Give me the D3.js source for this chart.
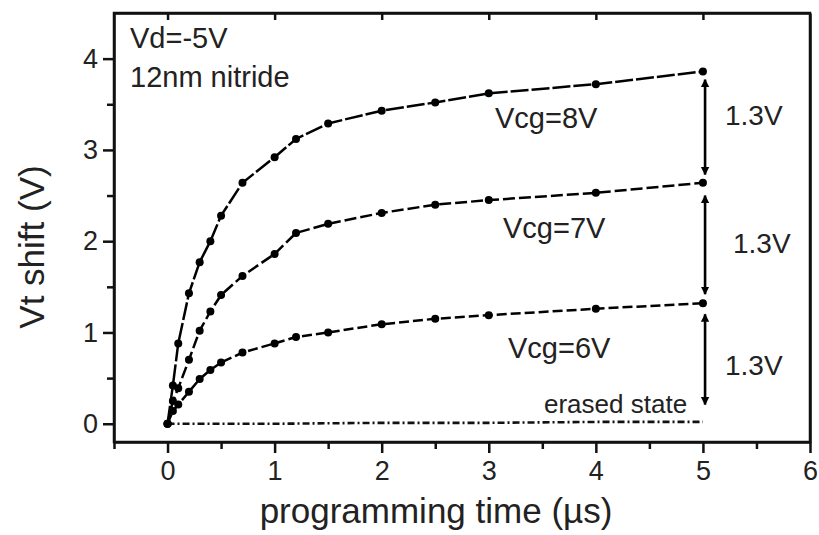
<!DOCTYPE html>
<html>
<head>
<meta charset="utf-8">
<script src="https://cdn.jsdelivr.net/npm/d3@7"></script>
<style>
  html, body { margin: 0; padding: 0; background: #fff; }
  svg { display: block; }
  text { font-family: "Liberation Sans", Arial, Helvetica, sans-serif; fill: #222; }
</style>
</head>
<body>
<svg id="chart" width="819" height="535"></svg>
<script>
// ---- data ----
const times = [0, 0.05, 0.1, 0.2, 0.3, 0.4, 0.5, 0.7, 1, 1.2, 1.5, 2, 2.5, 3, 4, 5];
const vcg8 = [0, 0.42, 0.88, 1.43, 1.77, 2.00, 2.28, 2.64, 2.92, 3.12, 3.29, 3.43, 3.52, 3.62, 3.72, 3.86];
const vcg7 = [0, 0.25, 0.39, 0.70, 1.02, 1.23, 1.41, 1.62, 1.86, 2.09, 2.19, 2.31, 2.40, 2.45, 2.53, 2.64];
const vcg6 = [0, 0.14, 0.21, 0.35, 0.49, 0.59, 0.67, 0.78, 0.88, 0.95, 1.00, 1.09, 1.15, 1.19, 1.26, 1.32];
const erasedTimes = [0, 1, 2, 3, 4, 5];
const erasedValues = [0, 0, 0.01, 0.01, 0.02, 0.02];
const seriesLabels = ["Vcg=8V", "Vcg=7V", "Vcg=6V"];
const xTicks = [0, 1, 2, 3, 4, 5, 6];
const yTicks = [0, 1, 2, 3, 4];
const arrowTime = 5.02;
const arrowFrom = [3.77, 2.50, 1.20];
const arrowTo = [2.73, 1.42, 0.21];
const gapLabel = "1.3V";

// ---- layout ----
const svg = d3.select("#chart");
const pL = 114, pR = 810, pT = 13, pB = 442;
const x = d3.scaleLinear().domain([-0.5, 6]).range([pL, pR]);
const y = d3.scaleLinear().domain([-0.2, 4.5]).range([pB, pT]);

const minorX = d3.range(-0.5, 6.01, 0.5).filter(v => !xTicks.includes(v));
const minorY = d3.range(0.5, 4.5, 0.5).filter(v => !yTicks.includes(v));

// minor ticks
svg.append("g").attr("transform", `translate(0,${pB})`)
  .call(d3.axisBottom(x).tickValues(minorX).tickSize(7).tickFormat(""))
  .call(g => g.select(".domain").remove())
  .call(g => g.selectAll("line").attr("stroke", "#111").attr("stroke-width", 2.5));
svg.append("g").attr("transform", `translate(${pL},0)`)
  .call(d3.axisLeft(y).tickValues(minorY).tickSize(7).tickFormat(""))
  .call(g => g.select(".domain").remove())
  .call(g => g.selectAll("line").attr("stroke", "#111").attr("stroke-width", 2.5));

// major axes
const xAxis = svg.append("g").attr("transform", `translate(0,${pB})`)
  .call(d3.axisBottom(x).tickValues(xTicks).tickSize(11).tickSizeOuter(0).tickPadding(8).tickFormat(d3.format("d")));
const yAxis = svg.append("g").attr("transform", `translate(${pL},0)`)
  .call(d3.axisLeft(y).tickValues(yTicks).tickSize(11).tickSizeOuter(0).tickPadding(5).tickFormat(d3.format("d")));
const xTop = svg.append("g").attr("transform", `translate(0,${pT})`)
  .call(d3.axisBottom(x).tickValues([0, 1, 2, 3, 4, 5]).tickSize(7).tickSizeOuter(0).tickFormat(""));
const yRight = svg.append("g").attr("transform", `translate(${pR},0)`)
  .call(d3.axisLeft(y).tickValues([]).tickSizeOuter(0));

[xAxis, yAxis, xTop, yRight].forEach(g => {
  g.select(".domain").attr("stroke", "#111").attr("stroke-width", 2.5);
  g.selectAll(".tick line").attr("stroke", "#111").attr("stroke-width", 2.5);
  g.selectAll(".tick text").attr("font-size", 27).attr("fill", "#222")
    .attr("font-family", '"Liberation Sans", Arial, sans-serif');
});
svg.append("rect").attr("x", pL).attr("y", pT).attr("width", pR - pL).attr("height", pB - pT)
  .attr("fill", "none").attr("stroke", "#111").attr("stroke-width", 2.5);

// axis titles
svg.append("text").attr("x", 436).attr("y", 523).attr("text-anchor", "middle")
  .attr("font-size", 35).text("programming time (\u00b5s)");
svg.append("text").attr("transform", "translate(44,247) rotate(-90)").attr("text-anchor", "middle")
  .attr("font-size", 35).text("Vt shift (V)");

// erased state line
const line = d3.line().x(d => x(d[0])).y(d => y(d[1]));
svg.append("path")
  .datum(erasedTimes.map((t, i) => [t, erasedValues[i]]))
  .attr("d", line).attr("fill", "none").attr("stroke", "#111").attr("stroke-width", 2.6)
  .attr("stroke-dasharray", "7,3,2,3");

// series
const series = [vcg8, vcg7, vcg6];
const dashes = ["18,3", "12,4", "10,4"];
series.forEach((vals, si) => {
  const pts = times.map((t, i) => [t, vals[i]]);
  svg.append("path").datum(pts).attr("d", line)
    .attr("fill", "none").attr("stroke", "#000").attr("stroke-width", 2.5)
    .attr("stroke-dasharray", dashes[si]);
  svg.append("g").selectAll("circle").data(pts).join("circle")
    .attr("cx", d => x(d[0])).attr("cy", d => y(d[1])).attr("r", 4).attr("fill", "#000");
});

// arrows
const defs = svg.append("defs");
defs.append("marker").attr("id", "ah").attr("viewBox", "0 0 10 10")
  .attr("refX", 9).attr("refY", 5).attr("markerWidth", 3.2).attr("markerHeight", 4.5)
  .attr("markerUnits", "strokeWidth").attr("orient", "auto-start-reverse")
  .append("path").attr("d", "M0,0 L10,5 L0,10 Z").attr("fill", "#000");
arrowFrom.forEach((f, i) => {
  svg.append("line").attr("x1", x(arrowTime)).attr("x2", x(arrowTime))
    .attr("y1", y(f)).attr("y2", y(arrowTo[i]))
    .attr("stroke", "#000").attr("stroke-width", 2.6)
    .attr("marker-start", "url(#ah)").attr("marker-end", "url(#ah)");
});

// labels
const lab = (tx, ty, s, fs) => svg.append("text").attr("x", tx).attr("y", ty).attr("font-size", fs).text(s);
lab(130, 48, "Vd=-5V", 29);
lab(130, 87, "12nm nitride", 29);
lab(495, 128, seriesLabels[0], 29);
lab(503, 238, seriesLabels[1], 29);
lab(508, 358, seriesLabels[2], 29);
lab(544, 413, "erased state", 26);
lab(725, 125, gapLabel, 28);
lab(733, 253, gapLabel, 28);
lab(725, 375, gapLabel, 28);
</script>
</body>
</html>
